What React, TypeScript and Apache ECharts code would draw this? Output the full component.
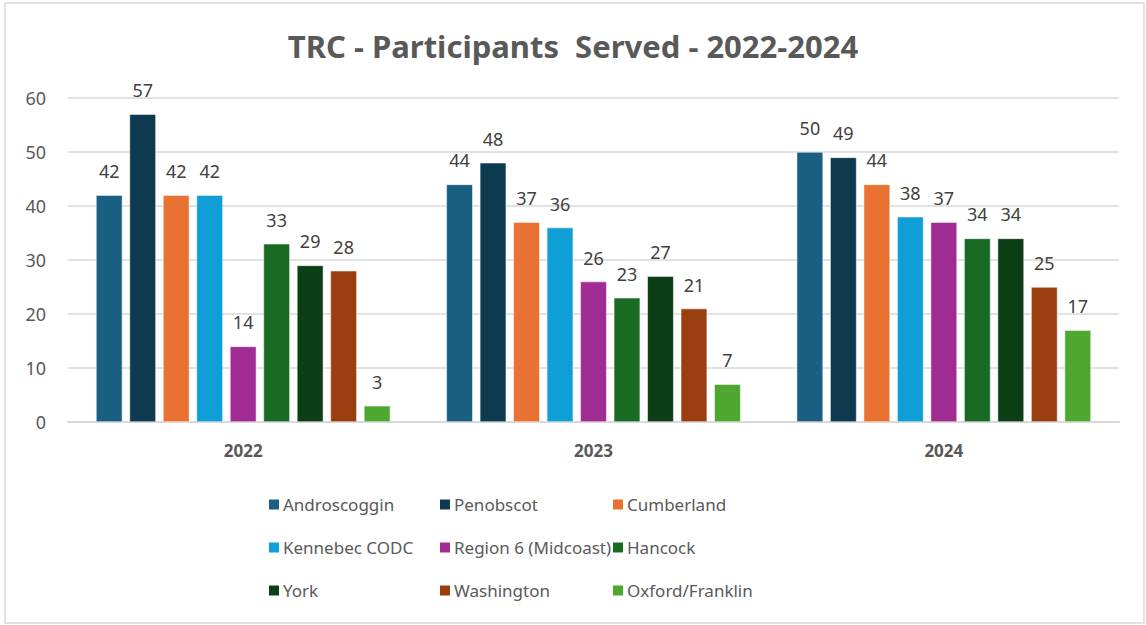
import React, { useEffect, useRef } from "react";
import * as echarts from "echarts";

const years = ["2022", "2023", "2024"];
const seriesNames = [
  "Androscoggin",
  "Penobscot",
  "Cumberland",
  "Kennebec CODC",
  "Region 6 (Midcoast)",
  "Hancock",
  "York",
  "Washington",
  "Oxford/Franklin",
];
const androscoggin = [42, 44, 50];
const penobscot = [57, 48, 49];
const cumberland = [42, 37, 44];
const kennebec = [42, 36, 38];
const region6 = [14, 26, 37];
const hancock = [33, 23, 34];
const york = [29, 27, 34];
const washington = [28, 21, 25];
const oxford = [3, 7, 17];
const seriesValues = [androscoggin, penobscot, cumberland, kennebec, region6, hancock, york, washington, oxford];
const colors = ["#185f82", "#0d3a4f", "#e97132", "#0f9ed5", "#a02b93", "#196b24", "#0c3f16", "#9a4010", "#4ea72e"];
const yTicks = [0, 10, 20, 30, 40, 50, 60];

const FONT = "'Noto Sans', sans-serif";

export default function App() {
  const ref = useRef<HTMLDivElement>(null);
  useEffect(() => {
    document.body.style.margin = "0";
    const chart = echarts.init(ref.current!, null, { renderer: "svg" });
    const legendCols = [
      [0, 3, 6],
      [1, 4, 7],
      [2, 5, 8],
    ];
    const legendLeft = [262, 433, 606];
    chart.setOption({
      animation: false,
      backgroundColor: "#ffffff",
      color: colors,
      title: {
        text: "TRC - Participants  Served - 2022-2024",
        left: "center",
        top: 25,
        textStyle: { fontFamily: FONT, fontSize: 31, fontWeight: "bold", color: "#595959" },
      },
      graphic: [
        {
          type: "rect",
          shape: { x: 5, y: 3, width: 1139, height: 620 },
          style: { fill: "none", stroke: "#d9d9d9", lineWidth: 1.5 },
          silent: true,
        },
      ],
      legend: legendCols.map((col, i) => ({
        orient: "vertical",
        left: legendLeft[i],
        top: 491,
        itemWidth: 12,
        itemHeight: 12,
        itemGap: 26,
        icon: "rect",
        data: col.map((k) => seriesNames[k]),
        textStyle: { fontFamily: FONT, fontSize: 17, color: "#595959", padding: [0, 0, 0, -2] },
      })),
      grid: { left: 68, right: 27, top: 98, bottom: 203, containLabel: false },
      xAxis: {
        type: "category",
        data: years,
        axisLine: { lineStyle: { color: "#d9d9d9", width: 2 } },
        axisTick: { show: false },
        axisLabel: { fontFamily: FONT, fontSize: 17, fontWeight: "bold", color: "#595959", margin: 20 },
      },
      yAxis: {
        type: "value",
        min: yTicks[0],
        max: yTicks[yTicks.length - 1],
        interval: 10,
        axisLine: { show: false },
        axisTick: { show: false },
        axisLabel: { fontFamily: FONT, fontSize: 18, color: "#595959", margin: 22 },
        splitLine: { lineStyle: { color: "#d9d9d9", width: 1.5 } },
      },
      series: seriesNames.map((name, i) => ({
        name,
        type: "bar",
        data: seriesValues[i],
        barGap: "27%",
        barCategoryGap: "16%",
        itemStyle: { color: colors[i], borderColor: "#ffffff", borderWidth: 0.5 },
        label: {
          show: true,
          position: "top",
          distance: 15,
          fontFamily: FONT,
          fontSize: 18,
          color: "#404040",
        },
      })),
    });
    return () => chart.dispose();
  }, []);
  return <div ref={ref} style={{ width: 1146, height: 625 }} />;
}
